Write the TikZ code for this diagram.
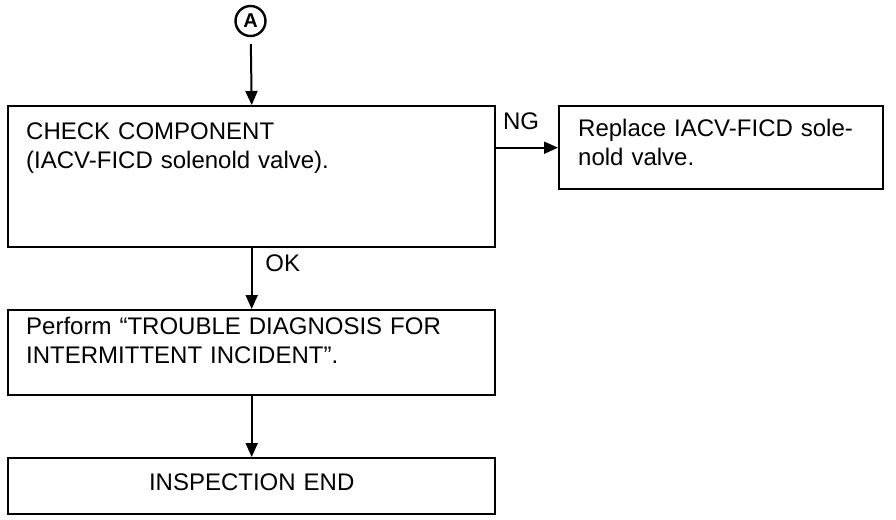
\documentclass[tikz,border=0pt]{standalone}
\usepackage{fontspec}
\setmainfont{Liberation Sans}
\usetikzlibrary{arrows.meta}
\begin{document}
\begin{tikzpicture}[x=0.5pt, y=-0.5pt, >={Triangle[width=6pt,length=7pt]},
	box/.style={draw, line width=1.2pt, anchor=north west, inner ysep=0pt, inner xsep=9pt, align=left, font=\fontsize{12}{14.5}\selectfont},
	lbl/.style={font=\fontsize{12}{14.5}\selectfont},
	flow/.style={->, line width=1pt}]
	\useasboundingbox (0,0) rectangle (896,520);
	\node (A)  at (250.5, 21)	[circle, draw, line width=1.2pt, minimum size=15pt, inner sep=0pt, font=\bfseries\fontsize{10}{10}\selectfont]	{A};
	\node (C1) at (7, 105)	[box, text width=225.5pt, text height=16.5pt, text depth=54pt]	{CHECK COMPONENT\\(IACV-FICD solenold valve).};
	\node (R1) at (558, 105)	[box, inner xsep=9.5pt, text width=143pt, text height=15pt, text depth=26.5pt]	{Replace IACV-FICD sole-\\nold valve.};
	\node (P1) at (7, 309)	[box, text width=225.5pt, text height=12pt, text depth=30.5pt]	{Perform ``TROUBLE DIAGNOSIS FOR\\INTERMITTENT INCIDENT''.};
	\node (E1) at (7, 457)	[box, align=center, text width=225.5pt, text height=16pt, text depth=12pt]	{INSPECTION END};
	\draw[flow, shorten <=3.5pt] (A) -- (C1.north);
	\draw[flow] (C1.east |- R1.west) -- node[lbl, pos=0.4, above=5pt] {NG} (R1.west);
	\draw[flow] (C1.south) -- node[lbl, pos=0.25, right=3pt] {OK} (P1.north);
	\draw[flow] (P1.south) -- (E1.north);
\end{tikzpicture}
\end{document}
